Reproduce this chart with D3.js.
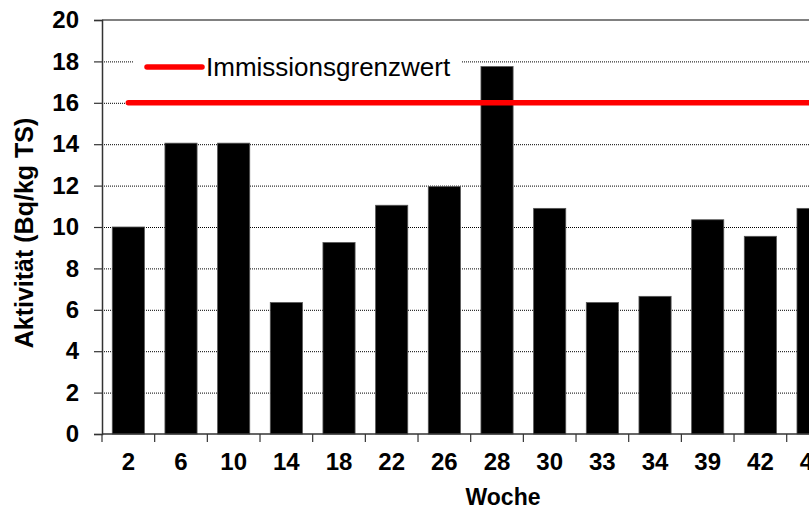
<!DOCTYPE html>
<html>
<head>
<meta charset="utf-8">
<script src="https://cdn.jsdelivr.net/npm/d3@7"></script>
<style>
  html, body { margin: 0; padding: 0; background: #fff; }
  svg { display: block; font-family: "Liberation Sans", Arial, sans-serif; }
</style>
</head>
<body>
<svg id="chart" width="809" height="511"></svg>
<script>
// ---- data ----
const weeks = ["2", "6", "10", "14", "18", "22", "26", "28", "30", "33", "34", "39", "42", "46"];
const activity = [10.0, 14.05, 14.05, 6.35, 9.25, 11.05, 11.95, 17.75, 10.9, 6.35, 6.65, 10.35, 9.55, 10.9];
const limitValue = [16, 16, 16, 16, 16, 16, 16, 16, 16, 16, 16, 16, 16, 16];
const yTicks = [0, 2, 4, 6, 8, 10, 12, 14, 16, 18, 20];
const legendLabel = "Immissionsgrenzwert";
const xTitle = "Woche";
const yTitle = "Aktivität (Bq/kg TS)";

// ---- layout ----
const svg = d3.select("#chart");
const plotLeft = 102, plotTop = 20, plotBottom = 434;
const step = 52.67;
const plotRight = plotLeft + step * weeks.length;

const x = d3.scaleBand().domain(weeks).range([plotLeft, plotRight]).padding(0);
const y = d3.scaleLinear().domain([0, 20]).range([plotBottom, plotTop]);
const barW = x.bandwidth() * 0.61;

// gridlines
svg.append("g")
  .attr("transform", `translate(${plotLeft},0)`)
  .call(d3.axisLeft(y).tickValues(yTicks.filter(v => v > 0 && v < 20)).tickSize(-(plotRight - plotLeft)).tickFormat(""))
  .call(g => g.select(".domain").remove())
  .call(g => g.selectAll("line").attr("stroke", "#000").attr("stroke-width", 1).attr("stroke-dasharray", "1,1"));

// top border
svg.append("line").attr("x1", plotLeft).attr("x2", plotRight).attr("y1", y(20)).attr("y2", y(20))
  .attr("stroke", "#808080").attr("stroke-width", 2);

// bars
svg.append("g").selectAll("rect").data(activity).join("rect")
  .attr("x", (d, i) => x(weeks[i]) + (x.bandwidth() - barW) / 2)
  .attr("y", d => y(d))
  .attr("width", barW)
  .attr("height", d => y(0) - y(d))
  .attr("fill", "#000")
  .attr("stroke", "#555")
  .attr("stroke-width", 0.8);

// limit line
const line = d3.line().x((d, i) => x(weeks[i]) + x.bandwidth() / 2).y(d => y(d));
svg.append("path").datum(limitValue).attr("d", line)
  .attr("fill", "none").attr("stroke", "#ff0000").attr("stroke-width", 5.5).attr("stroke-linecap", "round");

// y axis
const yAxis = svg.append("g")
  .attr("transform", `translate(${plotLeft},0)`)
  .call(d3.axisLeft(y).tickValues(yTicks).tickSize(8).tickPadding(15).tickFormat(d3.format("d")));
yAxis.select(".domain").attr("stroke", "#333").attr("stroke-width", 1.5);
yAxis.selectAll(".tick line").attr("stroke", "#333").attr("stroke-width", 1.2);
yAxis.selectAll("text").attr("font-size", 24).attr("font-weight", "bold").attr("fill", "#000")
  .attr("font-family", "Liberation Sans, Arial, sans-serif");

// x axis: line + ticks at band boundaries
svg.append("line").attr("x1", plotLeft).attr("x2", plotRight).attr("y1", y(0)).attr("y2", y(0))
  .attr("stroke", "#333").attr("stroke-width", 1.5);
const bounds = weeks.map(w => x(w)).concat([plotRight]);
svg.append("g").selectAll("line").data(bounds).join("line")
  .attr("x1", d => d).attr("x2", d => d).attr("y1", y(0)).attr("y2", y(0) + 8)
  .attr("stroke", "#333").attr("stroke-width", 1.2);
const xAxis = svg.append("g")
  .attr("transform", `translate(0,${plotBottom})`)
  .call(d3.axisBottom(x).tickSize(0).tickPadding(19));
xAxis.select(".domain").remove();
xAxis.selectAll("text").attr("font-size", 24).attr("font-weight", "bold").attr("fill", "#000")
  .attr("font-family", "Liberation Sans, Arial, sans-serif");

// axis titles
svg.append("text").attr("x", 503).attr("y", 505).attr("text-anchor", "middle")
  .attr("font-size", 23).attr("font-weight", "bold").text(xTitle);
svg.append("text").attr("transform", "translate(33,233) rotate(-90)").attr("text-anchor", "middle")
  .attr("font-size", 25).attr("font-weight", "bold").text(yTitle);

// legend
const lg = svg.append("g");
lg.append("rect").attr("x", 134).attr("y", 46).attr("width", 327).attr("height", 42).attr("fill", "#fff");
lg.append("line").attr("x1", 147).attr("x2", 202).attr("y1", 67).attr("y2", 67)
  .attr("stroke", "#ff0000").attr("stroke-width", 5.5).attr("stroke-linecap", "round");
lg.append("text").attr("x", 206).attr("y", 76).attr("font-size", 26).attr("fill", "#000").text(legendLabel);
</script>
</body>
</html>
